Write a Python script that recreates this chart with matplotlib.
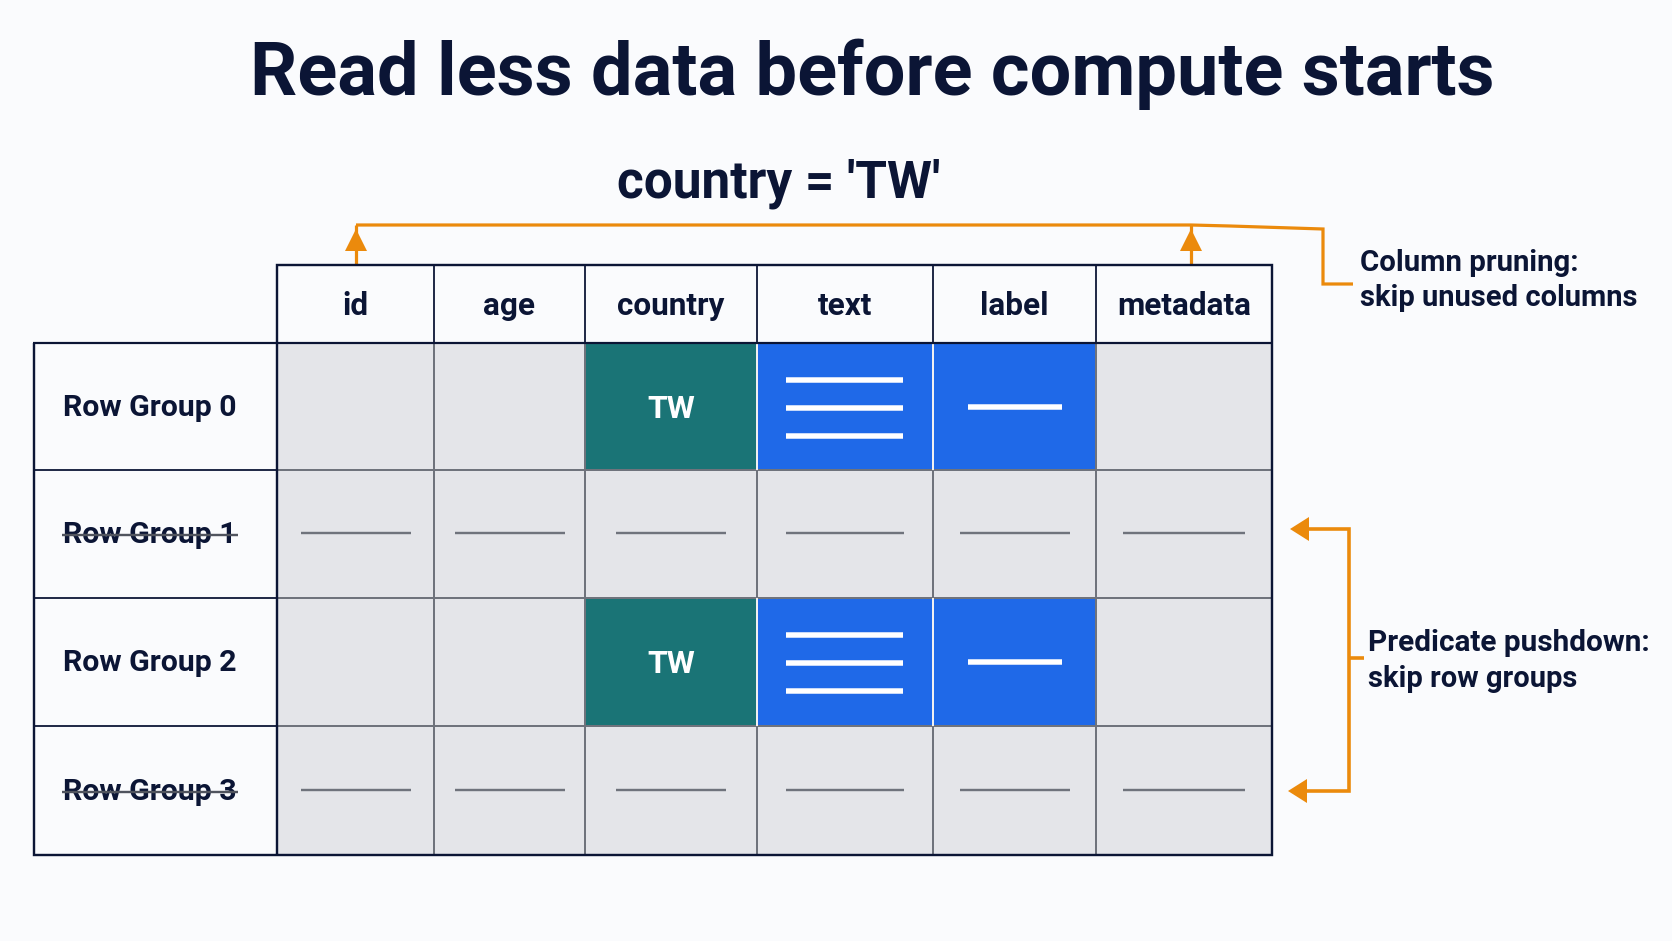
import matplotlib
matplotlib.use("Agg")
import matplotlib.pyplot as plt
from matplotlib.patches import Rectangle, Polygon

# ---- content ----
title = "Read less data before compute starts"
predicate = "country = 'TW'"
columns = ["id", "age", "country", "text", "label", "metadata"]
row_groups = ["Row Group 0", "Row Group 1", "Row Group 2", "Row Group 3"]
row_skipped = [False, True, False, True]
selected_value = "TW"
column_kind = ["empty", "empty", "key", "lines", "line", "empty"]
note_columns = "Column pruning:\nskip unused columns"
note_rows = "Predicate pushdown:\nskip row groups"

# ---- layout (pixels) ----
W, H = 1672, 941
col_edges = [277, 434, 585, 757, 933, 1096, 1272]
row_edges = [343, 470, 598, 726, 855]
dash_half = [55, 55, 55, 59, 55, 61]
head_top, label_left = 265, 34
NAVY, GRID, GRAY, TEAL, BLUE, ORANGE, BG = ("#0B1535", "#6F737C", "#E4E5E9", "#1A7476",
                                            "#1F69E8", "#EB8A0C", "#FAFBFD")
FONT = ["Roboto", "DejaVu Sans"]
lw = lambda p: p * 72 / 100

fig = plt.figure(figsize=(W / 100, H / 100), dpi=100, facecolor=BG)
ax = fig.add_axes([0, 0, 1, 1])
ax.set_xlim(0, W)
ax.set_ylim(H, 0)
ax.axis("off")


def seg(xs, ys, color, width, z=3, cap="butt"):
    ax.plot(xs, ys, color=color, lw=lw(width), zorder=z, solid_capstyle=cap, solid_joinstyle="miter")


def txt(x, y, s, size, weight="bold", color=NAVY, ha="center", va="center", **kw):
    ax.text(x, y, s, fontsize=size, fontweight=weight, color=color, ha=ha, va=va,
            family=FONT, zorder=6, **kw)


# cells
for r, skipped in enumerate(row_skipped):
    y0, y1 = row_edges[r], row_edges[r + 1]
    for c, kind in enumerate(column_kind):
        x0, x1 = col_edges[c], col_edges[c + 1]
        active = not skipped and kind != "empty"
        face = GRAY if not active else (TEAL if kind == "key" else BLUE)
        ax.add_patch(Rectangle((x0, y0), x1 - x0, y1 - y0, fc=face, ec="none", zorder=1))
        xc, yc = (x0 + x1) / 2, (y0 + y1) / 2
        if skipped:
            seg([xc - dash_half[c], xc + dash_half[c]], [yc - 1, yc - 1], GRID, 2.4)
        elif kind == "key":
            txt(xc, yc + 2, selected_value, 23, color="white")
        elif kind == "lines":
            for dy in (-28, 0, 28):
                seg([xc - 59, xc + 58], [yc + dy + 1, yc + dy + 1], "white", 5.5)
        elif kind == "line":
            seg([xc - 47, xc + 47], [yc, yc], "white", 5.5)

# grid lines
for x in col_edges[1:-1]:
    seg([x, x], [row_edges[0], row_edges[-1]], GRID, 2)
for y in row_edges[1:-1]:
    seg([col_edges[0], col_edges[-1]], [y, y], GRID, 2)
for y in row_edges[1:-1]:
    seg([label_left, col_edges[0]], [y, y], NAVY, 1.8, z=4)
for x0 in (col_edges[3], col_edges[4]):
    for r in (0, 2):
        seg([x0, x0], [row_edges[r], row_edges[r + 1]], "white", 1.8, z=4)
for x in col_edges[1:-1]:
    seg([x, x], [head_top, row_edges[0]], NAVY, 1.8, z=4)

# outer frame
seg([label_left - 1, col_edges[-1]], [row_edges[0], row_edges[0]], NAVY, 2.2, z=5)
seg([label_left, label_left, col_edges[-1], col_edges[-1], col_edges[0], col_edges[0]],
    [row_edges[0], row_edges[-1], row_edges[-1], head_top, head_top, row_edges[-1]], NAVY, 2.4, z=5)

# labels
for c, name in enumerate(columns):
    txt((col_edges[c] + col_edges[c + 1]) / 2, (head_top + row_edges[0]) / 2 + 2, name, 22.7)
for r, (name, skipped) in enumerate(zip(row_groups, row_skipped)):
    yc = (row_edges[r] + row_edges[r + 1]) / 2
    txt(149.5, yc + 1, name, 21.8)
    if skipped:
        seg([62, 238], [yc + 1, yc + 1], "#50545E", 2.4, z=7)

# title
txt(872, 74, title, 53.3)
txt(779, 184, predicate, 37)

# orange: column pruning
seg([356, 356], [264, 225], ORANGE, 3.2)
seg([1191, 1191], [264, 225], ORANGE, 3.2)
ax.plot([356, 1191, 1230, 1323, 1323, 1353], [225, 225, 226, 229, 284, 284], color=ORANGE,
        lw=lw(3.2), zorder=3, solid_joinstyle="miter", solid_capstyle="butt")
for x in (356, 1191):
    ax.add_patch(Polygon([(x, 229), (x - 11, 251), (x + 11, 251)], fc=ORANGE, ec="none", zorder=4))
txt(1360, 263, note_columns.split("\n")[0], 21.2, ha="left")
txt(1360, 298, note_columns.split("\n")[1], 21, ha="left")

# orange: predicate pushdown
ax.plot([1307, 1349, 1349, 1305], [529, 529, 791, 791], color=ORANGE, lw=lw(3.6), zorder=3,
        solid_joinstyle="miter", solid_capstyle="butt")
seg([1349, 1364], [658, 658], ORANGE, 3.6)
ax.add_patch(Polygon([(1290, 529), (1309, 517), (1309, 541)], fc=ORANGE, ec="none", zorder=4))
ax.add_patch(Polygon([(1288, 791), (1307, 779), (1307, 803)], fc=ORANGE, ec="none", zorder=4))
txt(1368, 643, note_rows.split("\n")[0], 21.4, ha="left")
txt(1368, 679, note_rows.split("\n")[1], 21, ha="left")

fig.savefig("out.png", dpi=100, facecolor=BG)
